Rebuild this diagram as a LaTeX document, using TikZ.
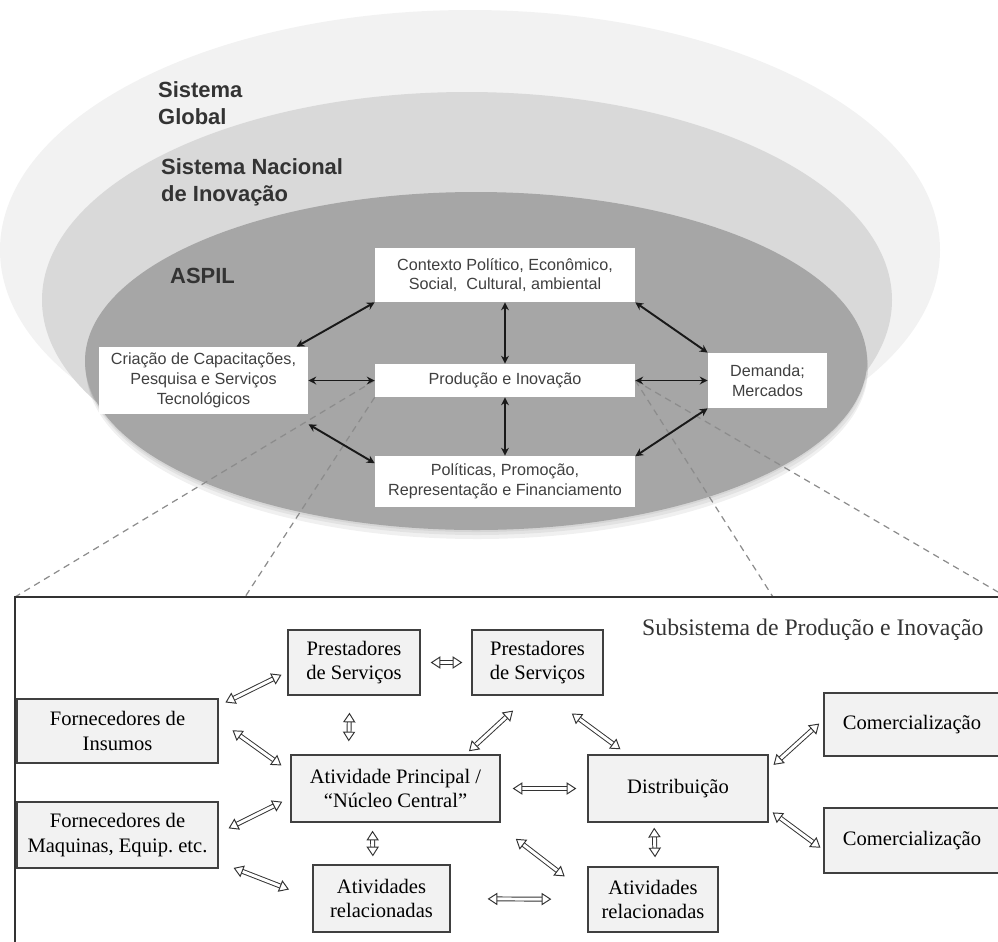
\documentclass[tikz,border=0pt]{standalone}
\usepackage{fontspec}
\setmainfont{Liberation Serif}
\newfontfamily\arialfont{Liberation Sans}
\usetikzlibrary{arrows.meta}
\frenchspacing

\definecolor{globalgray}{HTML}{F2F2F2}
\definecolor{nacgray}{HTML}{D9D9D9}
\definecolor{aspilgray}{HTML}{A6A6A6}
\definecolor{txtgray}{HTML}{404040}

\begin{document}
\begin{tikzpicture}[x=0.02cm, y=-0.02cm,
  upbox/.style={fill=white, inner sep=0pt, align=center, text=txtgray,
    font=\arialfont\fontsize{9.2}{11.3}\selectfont},
  subbox/.style={draw=black!75, line width=0.8pt, fill=black!5, inner sep=0pt,
    align=center, font=\fontsize{11.7}{14}\selectfont},
  ring/.style={text=black!80, align=left, anchor=west,
    font=\arialfont\bfseries\fontsize{12.5}{15.3}\selectfont},
  uparr/.style={draw=black!90, line width=1.1pt,
    {Stealth[length=4.5pt,width=4.5pt]}-{Stealth[length=4.5pt,width=4.5pt]}},
  dbl/.style={draw=black!80, line width=0.55pt, double=white, double distance=1.7pt,
    {Triangle[fill=white,line width=0.55pt,length=5.5pt,width=7pt]}-{Triangle[fill=white,line width=0.55pt,length=5.5pt,width=7pt]}},
  zoomline/.style={draw=black!45, line width=0.7pt, dash pattern=on 1.3mm off 1mm}]

  \useasboundingbox (0,0) rectangle (998,941);
  \clip (0,0) rectangle (998,941);

  % nested systems
  \fill[globalgray] (470,250) ellipse (470 and 240);
  \fill[nacgray] (467,300) ellipse (425 and 208);
  \fill[black, opacity=0.06] (477,369) ellipse (391 and 170);
  \fill[black, opacity=0.06] (477,366) ellipse (391 and 169);
  \fill[black, opacity=0.06] (476,363) ellipse (391 and 169);
  \fill[aspilgray] (476,361) ellipse (391 and 169);

  \node[ring] (global) at (152,103) {Sistema\\Global};
  \node[ring] (nacional) at (155,182) {Sistema Nacional\\de Inovação};
  \node[ring] (aspil) at (164,276) {ASPIL};

  % ASPIL blocks
  \node[upbox, minimum width=52mm, minimum height=10.8mm] (ctx) at (505,275)
    {Contexto Político, Econômico,\\Social,\ \ Cultural, ambiental};
  \node[upbox, minimum width=52mm, minimum height=6.6mm] (prod) at (505,380.5)
    {Produção e Inovação};
  \node[upbox, minimum width=52mm, minimum height=10.2mm] (pol) at (505,481.5)
    {Políticas, Promoção,\\Representação e Financiamento};
  \node[upbox, minimum width=41.8mm, minimum height=13.4mm] (cria) at (203.5,380.5)
    {Criação de Capacitações,\\Pesquisa e Serviços\\Tecnológicos};
  \node[upbox, minimum width=23.8mm, minimum height=11mm] (dem) at (767.5,380.5)
    {Demanda;\\Mercados};

  % zoom lines
  \coordinate (fnw) at (15,597);
  \coordinate (fa) at (245,597);
  \coordinate (fb) at (773,597);
  \coordinate (fne) at (998,592);
  \draw[zoomline] (prod.west) -- (fnw);
  \draw[zoomline] (prod.south west) -- (fa);
  \draw[zoomline] (prod.east) -- (fb);
  \draw[zoomline] (prod.east) -- (fne);

  \draw[uparr] (cria.20) -- (ctx.south west);
  \draw[uparr] (cria) -- (prod);
  \draw[uparr, shorten <=3.9mm] (cria.-21) -- (pol.172);
  \draw[uparr] (ctx.south east) -- (dem.north west);
  \draw[uparr] (prod) -- (dem);
  \draw[uparr] (pol.11) -- (dem.south west);
  \draw[uparr] (ctx) -- (prod);
  \draw[uparr] (prod) -- (pol);

  % subsystem frame
  \draw[black!80, line width=1.1pt] (15,960) -- (fnw) -- (1010,597);
  \node[anchor=west, text=black!80, font=\fontsize{13.5}{16}\selectfont] (subtit) at (636,630)
    {Subsistema de Produção e Inovação};

  \node[subbox, minimum width=26.4mm, minimum height=13mm] (p1) at (354,662.5)
    {Prestadores\\de Serviços};
  \node[subbox, minimum width=26.2mm, minimum height=13mm] (p2) at (537.5,662.5)
    {Prestadores\\de Serviços};
  \node[subbox, minimum width=40.2mm, minimum height=12.8mm] (fi) at (117.5,731)
    {Fornecedores de\\Insumos};
  \node[subbox, minimum width=40.2mm, minimum height=13.2mm] (fm) at (117.5,835)
    {Fornecedores de\\Maquinas, Equip. etc.};
  \node[subbox, minimum width=41.8mm, minimum height=13.4mm] (ap) at (395.5,788.5)
    {Atividade Principal /\\“Núcleo Central”};
  \node[subbox, minimum width=27.4mm, minimum height=13.4mm] (ar1) at (381.5,898.5)
    {Atividades\\relacionadas};
  \node[subbox, minimum width=36mm, minimum height=13.4mm] (dist) at (678,788.5)
    {Distribuição};
  \node[subbox, minimum width=26mm, minimum height=13mm] (ar2) at (653,899.5)
    {Atividades\\relacionadas};
  \node[subbox, minimum width=35.2mm, minimum height=12.6mm] (c1) at (912,724.5)
    {Comercialização};
  \node[subbox, minimum width=35.2mm, minimum height=13mm] (c2) at (912,840.5)
    {Comercialização};

  \draw[dbl, shorten <=1.5mm, shorten >=1.3mm] (fi.14) -- (p1.188);
  \draw[dbl, shorten <=3.4mm, shorten >=2.2mm] (fi.6) -- (ap.171);
  \draw[dbl, shorten <=2.2mm, shorten >=1.8mm] (fm.1) -- (ap.185);
  \draw[dbl, shorten <=3.2mm, shorten >=5mm] (fm.-15) -- (ar1.west);
  \draw[dbl, shorten <=2mm, shorten >=1.8mm] (p1) -- (p2);
  \draw[dbl, shorten <=3.4mm, shorten >=2.6mm] (p1.263) -- (ap.144);
  \draw[dbl, shorten <=4.4mm, shorten >=0.9mm] (p2.256) -- (ap.26);
  \draw[dbl, shorten <=6mm, shorten >=1.7mm] (p2.287) -- (dist.146);
  \draw[dbl, shorten <=1.6mm, shorten >=1.6mm] (ap.236) -- (ar1.104);
  \draw[dbl, shorten <=2.4mm, shorten >=2.2mm] (ap) -- (dist);
  \draw[dbl, shorten <=5.3mm, shorten >=5.7mm] (ap.-19) -- (ar2.175);
  \draw[dbl, shorten <=7.4mm, shorten >=7.2mm] (ar1) -- (ar2);
  \draw[dbl, shorten <=1mm, shorten >=1.8mm] (dist.235) -- (ar2.86);
  \draw[dbl, shorten <=1.3mm, shorten >=1.1mm] (dist.12) -- (c1.177);
  \draw[dbl, shorten <=1mm, shorten >=0.7mm] (dist.-13) -- (c2.186);
\end{tikzpicture}
\end{document}
